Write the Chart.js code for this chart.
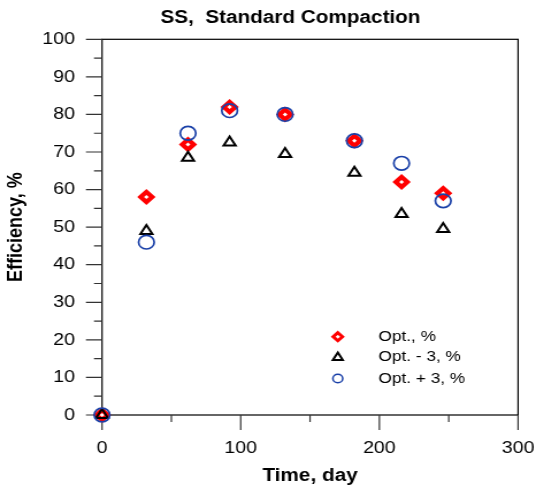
<!DOCTYPE html>
<html>
<head>
<meta charset="utf-8">
<script src="https://cdn.jsdelivr.net/npm/chart.js@4.4.1/dist/chart.umd.min.js"></script>
<style>
  body { margin: 0; background: #fff; }
</style>
</head>
<body>
<!-- drawn at 466 wide and widened to 536 on screen -->
<canvas id="chart" width="466" height="490" style="display:block;width:536px;height:490px"></canvas>
<script>
const days = [0, 32, 62, 92, 132, 182, 216, 246];
const optimum = [0, 58, 72, 82, 80, 73, 62, 59];
const optMinus3 = [0, 49, 68.5, 72.5, 69.5, 64.5, 53.5, 49.5];
const optPlus3 = [0, 46, 75, 81, 80, 73, 67, 57];
const seriesNames = ["Opt., %", "Opt. - 3, %", "Opt. + 3, %"];
const xTicks = [0, 100, 200, 300];
const yTicks = [0, 10, 20, 30, 40, 50, 60, 70, 80, 90, 100];

const FONT = '"Liberation Sans", Arial, sans-serif';
const RED = "#ff0000";
const BLUE = "#1a40a8";

function points(ys) {
  return days.map((d, i) => ({ x: d, y: ys[i] }));
}

// frame, tick marks, title and the in-plot legend
const decorations = {
  id: "decorations",
  beforeDatasetsDraw(chart) {
    const { ctx, chartArea: a, scales } = chart;
    ctx.save();
    ctx.strokeStyle = "#000";
    ctx.lineWidth = 1.2;
    ctx.strokeRect(a.left, a.top, a.right - a.left, a.bottom - a.top);

    ctx.strokeStyle = "#333";
    ctx.lineWidth = 1.2;
    ctx.beginPath();
    for (let v = 0; v <= 100; v += 5) {
      const y = scales.y.getPixelForValue(v);
      const len = v % 10 === 0 ? 14 : 7;
      ctx.moveTo(a.left - len, y);
      ctx.lineTo(a.left, y);
    }
    for (let v = 0; v <= 300; v += 50) {
      const x = scales.x.getPixelForValue(v);
      const len = v % 100 === 0 ? 15 : 7;
      ctx.moveTo(x, a.bottom);
      ctx.lineTo(x, a.bottom + len);
    }
    ctx.stroke();
    ctx.restore();
  },
  afterDraw(chart) {
    const { ctx } = chart;
    ctx.save();
    ctx.fillStyle = "#000";
    ctx.font = "bold 18px " + FONT;
    ctx.textAlign = "center";
    ctx.textBaseline = "middle";
    ctx.fillText("SS,  Standard Compaction", 252.6, 18);

    const mx = 293.7, tx = 329;
    const rows = [336.7, 357, 378.5];
    // diamond
    let y = rows[0];
    ctx.beginPath();
    ctx.moveTo(mx, y - 4); ctx.lineTo(mx + 4, y); ctx.lineTo(mx, y + 4); ctx.lineTo(mx - 4, y);
    ctx.closePath();
    ctx.fillStyle = "#fff"; ctx.fill();
    ctx.strokeStyle = RED; ctx.lineWidth = 3; ctx.stroke();
    // triangle
    y = rows[1];
    ctx.beginPath();
    ctx.moveTo(mx, y - 4.5); ctx.lineTo(mx + 4.3, y + 3); ctx.lineTo(mx - 4.3, y + 3);
    ctx.closePath();
    ctx.strokeStyle = "#000"; ctx.lineWidth = 2; ctx.stroke();
    // circle
    y = rows[2];
    ctx.beginPath();
    ctx.arc(mx, y, 4.3, 0, Math.PI * 2);
    ctx.strokeStyle = BLUE; ctx.lineWidth = 1.5; ctx.stroke();

    ctx.fillStyle = "#000";
    ctx.font = "15px " + FONT;
    ctx.textAlign = "left";
    seriesNames.forEach((name, i) => ctx.fillText(name, tx, rows[i]));
    ctx.restore();
  }
};

new Chart(document.getElementById("chart"), {
  type: "scatter",
  data: {
    datasets: [
      {
        label: seriesNames[0],
        data: points(optimum),
        pointStyle: "rectRot",
        pointRadius: 5,
        borderWidth: 4.2,
        borderColor: RED,
        backgroundColor: "#fff",
        order: 2,
        clip: false
      },
      {
        label: seriesNames[1],
        data: points(optMinus3),
        pointStyle: "triangle",
        pointRadius: 6,
        borderWidth: 2,
        borderColor: "#000",
        backgroundColor: "rgba(0,0,0,0)",
        order: 1,
        clip: false
      },
      {
        label: seriesNames[2],
        data: points(optPlus3),
        pointStyle: "circle",
        pointRadius: 6.8,
        borderWidth: 1.7,
        borderColor: BLUE,
        backgroundColor: "rgba(0,0,0,0)",
        order: 0,
        clip: false
      }
    ]
  },
  options: {
    responsive: false,
    animation: false,
    devicePixelRatio: 1,
    layout: { padding: { top: 39.3, right: 15.6, left: 0, bottom: 0 } },
    plugins: {
      legend: { display: false },
      tooltip: { enabled: false }
    },
    scales: {
      x: {
        type: "linear",
        min: 0,
        max: 300,
        afterFit(scale) {
          scale.height = 75;
          scale.paddingLeft = 0;
          scale.paddingRight = 0;
        },
        afterBuildTicks(scale) { scale.ticks = xTicks.map(v => ({ value: v })); },
        ticks: { color: "#000", font: { family: FONT, size: 17 }, padding: 23 },
        grid: { display: false, drawTicks: false },
        border: { display: false },
        title: {
          display: true,
          text: "Time, day",
          color: "#000",
          font: { family: FONT, size: 18, weight: "bold" },
          padding: { top: 0, bottom: 3 }
        }
      },
      y: {
        min: 0,
        max: 100,
        afterFit(scale) {
          scale.width = 88.7;
          scale.paddingTop = 0;
          scale.paddingBottom = 0;
        },
        afterBuildTicks(scale) { scale.ticks = yTicks.map(v => ({ value: v })); },
        ticks: { color: "#000", font: { family: FONT, size: 17 }, padding: 23.5 },
        grid: { display: false, drawTicks: false },
        border: { display: false },
        title: {
          display: true,
          text: "Efficiency, %",
          color: "#000",
          font: { family: FONT, size: 18, weight: "bold" },
          padding: { top: 3, bottom: 0 }
        }
      }
    }
  },
  plugins: [decorations]
});
</script>
</body>
</html>
